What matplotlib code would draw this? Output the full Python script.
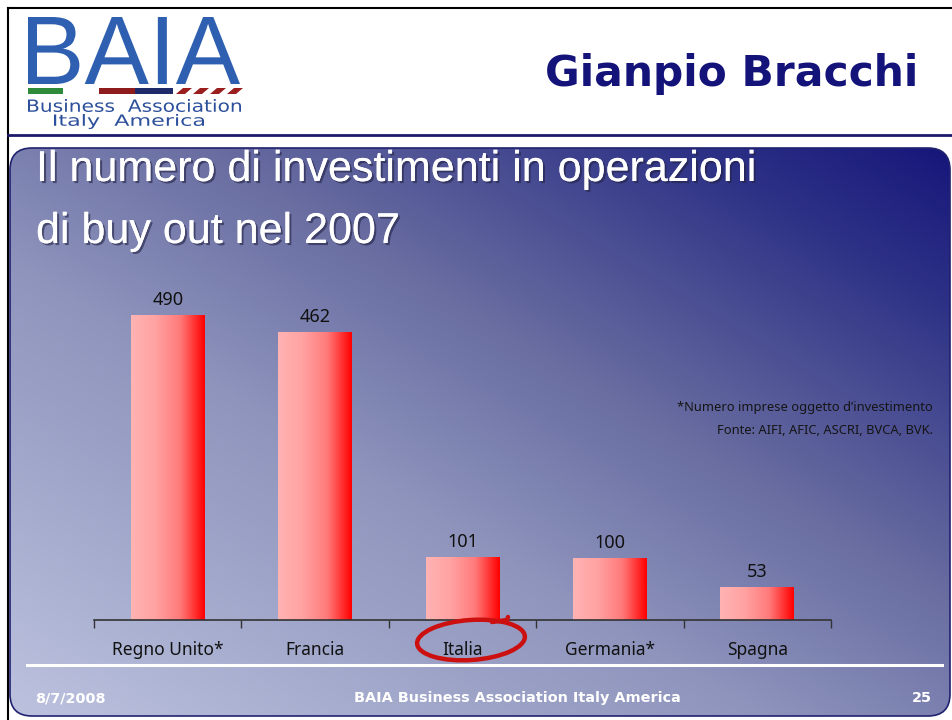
import numpy as np
import matplotlib
matplotlib.use("Agg")
import matplotlib.pyplot as plt
from matplotlib.patches import FancyBboxPatch, Rectangle, Ellipse, Polygon, PathPatch
from matplotlib.colors import LinearSegmentedColormap
from matplotlib.textpath import TextPath
from matplotlib.font_manager import FontProperties
from matplotlib.transforms import Affine2D
import matplotlib.patheffects as pe

# ---- data ----
categories = ["Regno Unito*", "Francia", "Italia", "Germania*", "Spagna"]
values = [490, 462, 101, 100, 53]
title_lines = ["Il numero di investimenti in operazioni", "di buy out nel 2007"]
header_name = "Gianpio Bracchi"
notes = ["*Numero imprese oggetto d\u2019investimento", "Fonte: AIFI, AFIC, ASCRI, BVCA, BVK."]
footer_left = "8/7/2008"
footer_center = "BAIA Business Association Italy America"
footer_right = "25"

W, H = 953, 720
fig = plt.figure(figsize=(W / 100, H / 100), dpi=100)
fig.patch.set_facecolor("white")

# ---- background axes in pixel coordinates ----
bg = fig.add_axes([0, 0, 1, 1], zorder=0)
bg.set_xlim(0, W)
bg.set_ylim(H, 0)
bg.axis("off")


def fitted_text(ax, s, x0, x1, ytop, ybot, fp, color, z=3):
    tp = TextPath((0, 0), s, prop=fp, size=100)
    bb = tp.get_extents()
    sx = (x1 - x0) / bb.width
    sy = (ybot - ytop) / bb.height
    tr = Affine2D().translate(-bb.x0, -bb.y0).scale(sx, -sy).translate(x0, ybot)
    ax.add_patch(PathPatch(tr.transform_path(tp), facecolor=color, edgecolor="none", zorder=z))


# slide border + header rule
bg.plot([8, 8], [8, H], color="black", lw=1.5)
bg.plot([8, W], [8, 8], color="black", lw=1.5)
bg.plot([8, W], [135, 135], color="#1a1a6e", lw=2)

# gradient panel
px0, px1, py0, py1 = 10, 950, 148, 716
xs = np.linspace(0, 1, 300)
ys = np.linspace(0, 1, 200)
XX, YY = np.meshgrid(xs, ys)
t = 0.5 * XX + 0.5 * (1 - YY)
stops = [0.0, 0.4, 0.55, 0.6, 0.86, 1.0]
rs = [188, 142, 114, 106, 46, 22]
gs = [194, 148, 119, 110, 50, 22]
bs = [222, 188, 169, 161, 134, 122]
img = np.dstack([np.interp(t, stops, rs), np.interp(t, stops, gs), np.interp(t, stops, bs)]) / 255.0
panel = FancyBboxPatch((px0, py0), px1 - px0, py1 - py0,
                       boxstyle="round,pad=0,rounding_size=22",
                       facecolor="none", edgecolor="#20226e", lw=1.2, zorder=2)
bg.add_patch(panel)
im = bg.imshow(img, extent=(px0, px1, py1, py0), origin="upper", aspect="auto", zorder=1)
im.set_clip_path(panel)
bg.set_xlim(0, W)
bg.set_ylim(H, 0)

# logo
logo_blue = "#2e5fb0"
fitted_text(bg, "BAIA", 28, 240, 17, 84, FontProperties(family="Liberation Sans"), logo_blue)
bg.add_patch(Rectangle((28, 88), 35, 6, facecolor="#2e8b3a", edgecolor="none", zorder=3))
bg.add_patch(Rectangle((99, 88), 36, 6, facecolor="#8e1c1c", edgecolor="none", zorder=3))
bg.add_patch(Rectangle((135, 88), 38, 6, facecolor="#1e2a6a", edgecolor="none", zorder=3))
for k in range(4):
    x0 = 176 + k * 17
    bg.add_patch(Polygon([(x0, 94), (x0 + 9, 94), (x0 + 16, 88), (x0 + 7, 88)],
                         closed=True, facecolor="#9a1e1e", edgecolor="none", zorder=3))
fitted_text(bg, "Business  Association", 28, 241, 99, 112, FontProperties(family="DejaVu Sans"), "#2b4f9a")
fitted_text(bg, "Italy  America", 54, 204, 114, 129, FontProperties(family="DejaVu Sans"), "#2b4f9a")

# header name
bg.text(918, 74, header_name, ha="right", va="center", fontsize=30.5, fontweight="bold",
        color="#14137a", family="DejaVu Sans", zorder=3)

# title
shadow = [pe.withSimplePatchShadow(offset=(1.5, -1.5), shadow_rgbFace="#222244", alpha=0.6), pe.Normal()]
for i, line in enumerate(title_lines):
    tx = bg.text(36, 170 + i * 62, line, ha="left", va="center", fontsize=31,
                 color="white", family="Liberation Sans", zorder=3)
    tx.set_path_effects(shadow)

# notes
for i, line in enumerate(notes):
    bg.text(933, 407 + i * 23, line, ha="right", va="center", fontsize=9.3,
            color="#151515", family="Noto Sans", zorder=3)

# footer
bg.plot([27, 942], [665, 665], color="white", lw=2.2, zorder=3)
fkw = dict(va="center", fontsize=10.4, color="white", family="DejaVu Sans",
           fontweight="bold", zorder=3)
bg.text(35, 698, footer_left, ha="left", **fkw)
bg.text(517, 698, footer_center, ha="center", **fkw)
bg.text(932, 698, footer_right, ha="right", **fkw)

# ---- chart axes ----
ax_left, ax_right, ax_base, ax_top = 94, 831, 620, 290
ax = fig.add_axes([ax_left / W, 1 - ax_base / H, (ax_right - ax_left) / W, (ax_base - ax_top) / H], zorder=1)
ax.patch.set_alpha(0)
x = np.arange(len(categories))
bars = ax.bar(x, values, width=0.5, color="none", edgecolor="none")
cmap = LinearSegmentedColormap.from_list("barg", ["#ffb3b3", "#ffa2a2", "#ff7a7a", "#ff0000"])
grad = np.linspace(0, 1, 256)[None, :]
for b in bars:
    gi = ax.imshow(grad, cmap=cmap, aspect="auto",
                   extent=(b.get_x(), b.get_x() + b.get_width(), 0, b.get_height()), zorder=2)
    gi.set_clip_path(b)
for xi, v in zip(x, values):
    ax.text(xi, v + 10, str(v), ha="center", va="bottom", fontsize=13,
            color="#111111", family="Noto Sans")
ax.set_xlim(-0.5, len(categories) - 0.5)
ax.set_ylim(0, 530)
for s in ["top", "right", "left"]:
    ax.spines[s].set_visible(False)
ax.spines["bottom"].set_color("#333333")
ax.spines["bottom"].set_linewidth(1.2)
ax.set_yticks([])
ax.set_xticks(x)
ax.set_xticklabels(categories, fontsize=12.5, color="#111111", family="Noto Sans")
ax.set_xticks(np.arange(len(categories) + 1) - 0.5, minor=True)
ax.tick_params(axis="x", which="major", length=0, pad=15)
ax.tick_params(axis="x", which="minor", length=6, width=1, color="#333333", direction="out")

# ---- overlay: hand-drawn circle ----
ov = fig.add_axes([0, 0, 1, 1], zorder=3)
ov.set_xlim(0, W)
ov.set_ylim(H, 0)
ov.axis("off")
ov.add_patch(Ellipse((471, 640), 108, 40, angle=-4, facecolor="none", edgecolor="#cc1010", lw=3.2))
ov.plot([492, 507, 508], [622, 620, 617], color="#cc1010", lw=3.2, solid_capstyle="round")

fig.savefig("out.png", dpi=100)
